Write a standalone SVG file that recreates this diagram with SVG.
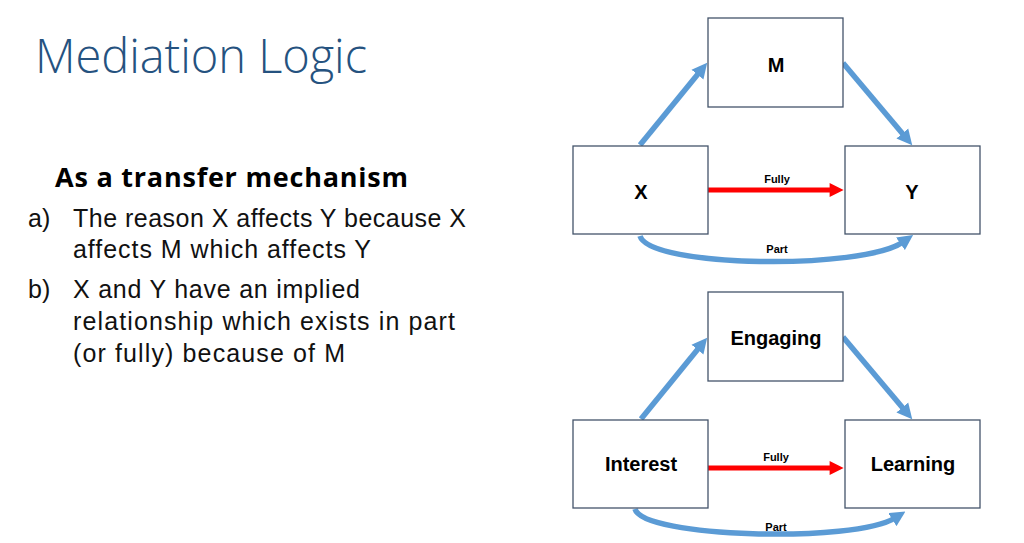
<svg xmlns="http://www.w3.org/2000/svg" width="1024" height="543" viewBox="0 0 1024 543">
<style>
.box{fill:#fff;stroke:#44546a;stroke-width:1.3}
.lbl{font-family:"Liberation Sans",Arial,sans-serif;font-weight:bold;font-size:20px;fill:#000;text-anchor:middle}
.small{font-family:"Liberation Sans",Arial,sans-serif;font-weight:bold;font-size:11px;fill:#000;text-anchor:middle}
.blue{fill:none;stroke:#5b9bd5;stroke-width:5.5;marker-end:url(#hb)}
.red{fill:none;stroke:#ff0000;stroke-width:5;marker-end:url(#hr)}
.body{font-family:"Liberation Sans",Arial,sans-serif;font-size:25px;fill:#111}
</style>
<defs>
<marker id="hb" viewBox="0 0 10 10" refX="2" refY="5" markerWidth="2.8" markerHeight="2.9" orient="auto" markerUnits="strokeWidth">
<path d="M0,0 L10,5 L0,10 z" fill="#5b9bd5"/>
</marker>
<marker id="hr" viewBox="0 0 10 10" refX="1" refY="5" markerWidth="3.2" markerHeight="2.8" orient="auto" markerUnits="strokeWidth">
<path d="M0,0 L10,5 L0,10 z" fill="#ff0000"/>
</marker>
</defs>
<rect width="1024" height="543" fill="#fff"/>
<text x="35" y="73" font-family="'Open Sans','Liberation Sans',sans-serif" font-weight="300" font-size="47" fill="#25527f" textLength="332">Mediation Logic</text>
<text x="55" y="187" font-family="'Open Sans','Liberation Sans',sans-serif" font-weight="bold" font-size="27" fill="#000" textLength="353">As a transfer mechanism</text>
<text class="body" x="28" y="227">a)</text>
<text class="body" x="73" y="227" textLength="393">The reason X affects Y because X</text>
<text class="body" x="73" y="258" textLength="298">affects M which affects Y</text>
<text class="body" x="28" y="298">b)</text>
<text class="body" x="73" y="298" textLength="287">X and Y have an implied</text>
<text class="body" x="73" y="330" textLength="382">relationship which exists in part</text>
<text class="body" x="73" y="362" textLength="272">(or fully) because of M</text>

<g id="connectors">
<path class="blue" d="M640,145 L699.4,72.3"/>
<path class="blue" d="M843,63 L904.3,135.8"/>
<path class="red" d="M708,190 L831,190"/>
<path class="blue" d="M640,236 C650,268 863,270 903,242"/>
<text class="small" x="777" y="183">Fully</text>
<text class="small" x="777" y="253">Part</text>

<path class="blue" d="M641,419 L699.4,347.3"/>
<path class="blue" d="M843,337 L904.3,409.8"/>
<path class="red" d="M708,468 L831,468"/>
<path class="blue" d="M635,509 C643,538 855,543 895,518"/>
<text class="small" x="776" y="461">Fully</text>
<text class="small" x="776" y="531">Part</text>
</g>

<g id="node-M"><rect class="box" x="708" y="18" width="135" height="89"/><text class="lbl" x="776" y="71.5">M</text></g>
<g id="node-X"><rect class="box" x="573" y="146" width="135" height="88"/><text class="lbl" x="641" y="199">X</text></g>
<g id="node-Y"><rect class="box" x="845" y="146" width="135" height="88"/><text class="lbl" x="912" y="199">Y</text></g>
<g id="node-Engaging"><rect class="box" x="708" y="292" width="135" height="89"/><text class="lbl" x="776" y="345">Engaging</text></g>
<g id="node-Interest"><rect class="box" x="573" y="420" width="135" height="88"/><text class="lbl" x="641" y="471">Interest</text></g>
<g id="node-Learning"><rect class="box" x="845" y="420" width="135" height="88"/><text class="lbl" x="913" y="471">Learning</text></g>
</svg>
